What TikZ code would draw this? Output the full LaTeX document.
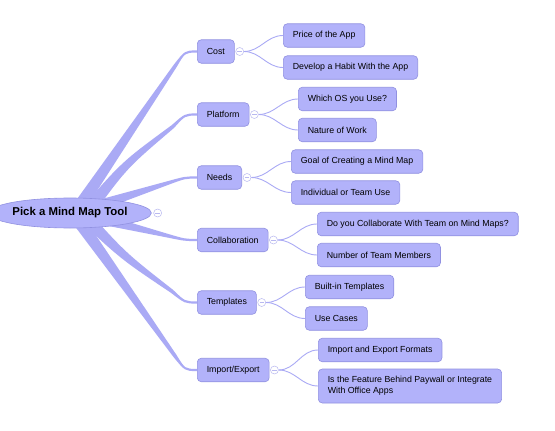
\documentclass[tikz,border=0pt]{standalone}
\usepackage{fontspec}
\setmainfont{Liberation Sans}
\usetikzlibrary{calc,shapes.geometric}
\pgfdeclarelayer{bg}
\pgfdeclarelayer{paper}
\pgfsetlayers{paper,bg,main}
\definecolor{mmfill}{RGB}{178,178,250}
\definecolor{mmborder}{RGB}{145,145,225}
\definecolor{mmline}{RGB}{170,170,245}
\definecolor{mmknob}{RGB}{185,185,240}
\tikzset{
  topic/.style={draw=mmborder, fill=mmfill, rounded corners=4pt, line width=0.6pt,
    font=\fontsize{8.8}{11}\selectfont, inner xsep=9.5pt, inner ysep=3pt,
    minimum height=23.5pt, anchor=west, text=black},
  rootnode/.style={ellipse, draw=mmborder, fill=mmfill, line width=0.6pt,
    minimum width=156pt, minimum height=30pt, inner sep=0pt,
    font=\fontsize{11.4}{13}\selectfont\bfseries},
  knob/.style={circle, draw=mmknob, fill=white, line width=0.5pt, minimum size=8pt,
    inner sep=0pt, path picture={\draw[mmknob,line width=0.5pt]
      ([xshift=-2.2pt]path picture bounding box.center) --
      ([xshift=2.2pt]path picture bounding box.center);}},
  twig/.style={draw=mmline, line width=0.9pt},
  limb/.style={fill=mmline},
}
% #1 start coordinate, #2 target node, #3 bow
\newcommand{\mmlimb}[3]{%
  \coordinate (lE) at (#2.west);
  \coordinate (lB) at ([xshift=-12pt]#2.west);
  \coordinate (lQ) at ($(lB)!17pt!(#1)$);
  \coordinate (lM0) at ($(#1)!0.5!(lQ)$);
  \coordinate (lM) at ($(lM0)!#3!90:(lQ)$);
  \fill[limb] ($(#1)!6.5pt!90:(lM)$) .. controls ($(lM)!4pt!90:(lQ)$) ..
    ($(lQ)!1.8pt!-90:(lM)$) .. controls ([yshift=1.1pt]lB) .. ([yshift=1.1pt]lE)
    -- ([yshift=-1.1pt]lE) .. controls ([yshift=-1.1pt]lB) ..
    ($(lQ)!1.8pt!90:(lM)$) .. controls ($(lM)!4pt!-90:(lQ)$) ..
    ($(#1)!6.5pt!-90:(lM)$) -- cycle;
}
\begin{document}
\begin{tikzpicture}[x=1pt,y=-1pt]
\begin{pgfonlayer}{paper}
\fill[white] (0,0) rectangle (555,431);
\end{pgfonlayer}
\useasboundingbox (0,0) rectangle (555,431);

\node[rootnode] (root) at (70,213) {Pick a Mind Map Tool};
\node[knob] (kroot) at ([xshift=6pt]root.east) {};

\node[topic] (cost) at (197,51.5) {Cost};
\node[topic] (platform) at (197,114.5) {Platform};
\node[topic] (needs) at (197,177.5) {Needs};
\node[topic] (collab) at (197,240) {Collaboration};
\node[topic] (templates) at (197,302.5) {Templates};
\node[topic] (impexp) at (197,370) {Import/Export};

\foreach \n in {cost,platform,needs,collab,templates,impexp}
  \node[knob] (k\n) at ([xshift=5pt]\n.east) {};

\node[topic] (price) at (283,35.5) {Price of the App};
\node[topic] (habit) at (283,67.5) {Develop a Habit With the App};
\node[topic] (os) at (298,99) {Which OS you Use?};
\node[topic] (work) at (298,130) {Nature of Work};
\node[topic] (goal) at (291,161.5) {Goal of Creating a Mind Map};
\node[topic] (indiv) at (291,192.5) {Individual or Team Use};
\node[topic] (collabq) at (317,224) {Do you Collaborate With Team on Mind Maps?};
\node[topic] (members) at (317,255) {Number of Team Members};
\node[topic] (builtin) at (305,287) {Built-in Templates};
\node[topic] (usecases) at (305,318.5) {Use Cases};
\node[topic] (formats) at (318,350) {Import and Export Formats};
\node[topic, align=left, minimum height=34pt] (paywall) at (318,386)
  {Is the Feature Behind Paywall or Integrate\\With Office Apps};

\coordinate (sCost) at ([xshift=5pt]root.center);
\coordinate (sPlat) at ([xshift=16pt]root.center);
\coordinate (sNeeds) at ([xshift=5pt]root.center);
\coordinate (sColl) at ([xshift=6pt]root.center);
\coordinate (sTempl) at ([xshift=11pt]root.center);
\coordinate (sImp) at ([xshift=3pt]root.center);

\begin{pgfonlayer}{bg}
  \mmlimb{sCost}{cost}{0pt}
  \mmlimb{sPlat}{platform}{7pt}
  \mmlimb{sNeeds}{needs}{0pt}
  \mmlimb{sColl}{collab}{0pt}
  \mmlimb{sTempl}{templates}{-5pt}
  \mmlimb{sImp}{impexp}{0pt}
  \draw[twig] (kcost.east) to[out=0,in=180] (price.west);
  \draw[twig] (kcost.east) to[out=0,in=180] (habit.west);
  \draw[twig] (kplatform.east) to[out=0,in=180] (os.west);
  \draw[twig] (kplatform.east) to[out=0,in=180] (work.west);
  \draw[twig] (kneeds.east) to[out=0,in=180] (goal.west);
  \draw[twig] (kneeds.east) to[out=0,in=180] (indiv.west);
  \draw[twig] (kcollab.east) to[out=0,in=180] (collabq.west);
  \draw[twig] (kcollab.east) to[out=0,in=180] (members.west);
  \draw[twig] (ktemplates.east) to[out=0,in=180] (builtin.west);
  \draw[twig] (ktemplates.east) to[out=0,in=180] (usecases.west);
  \draw[twig] (kimpexp.east) to[out=0,in=180] (formats.west);
  \draw[twig] (kimpexp.east) to[out=0,in=180] (paywall.west);
\end{pgfonlayer}
\end{tikzpicture}
\end{document}
